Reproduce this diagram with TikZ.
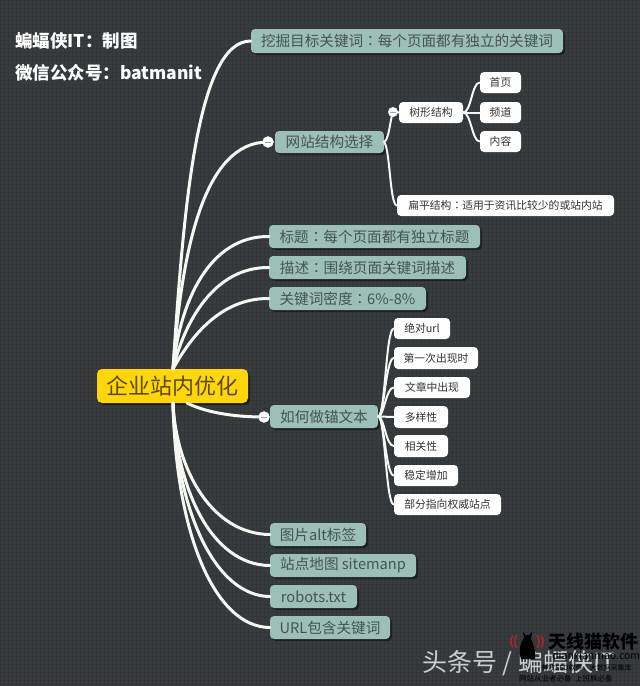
\documentclass[tikz,border=0pt]{standalone}
\usepackage{fontspec}
\setmainfont{Noto Sans CJK SC}
\newfontfamily\tcfont{Noto Sans CJK TC}
\newcommand{\cncolon}{{\tcfont ：}}
\usetikzlibrary{shadows}
\definecolor{bgc}{HTML}{383C3F}
\definecolor{dotc}{HTML}{323639}
\definecolor{tealc}{HTML}{9CBFB7}
\definecolor{tealt}{HTML}{46544F}
\definecolor{rootc}{HTML}{FFD50C}
\definecolor{roott}{HTML}{5B4A08}
\definecolor{whitet}{HTML}{333333}
\definecolor{linec}{HTML}{F6F6F2}
\definecolor{redc}{HTML}{B5232A}
\newcommand{\bx}[7]{\node[#6,minimum width={(#4-#2)*1pt},minimum height={(#5-#3)*1pt}] (#1) at ({(#2+#4)/2},{(#3+#5)/2}) {#7};}
\tikzset{
  rootbox/.style={fill=rootc,text=roott,rounded corners=5pt,inner sep=0pt,font=\fontsize{22}{24}\selectfont,drop shadow={shadow xshift=2pt,shadow yshift=-2pt,opacity=.5,fill=black}},
  tealbox/.style={fill=tealc,text=tealt,rounded corners=4pt,inner sep=0pt,font=\fontsize{14.6}{16}\selectfont,drop shadow={shadow xshift=2pt,shadow yshift=-2pt,opacity=.45,fill=black}},
  whitebox/.style={fill=white,text=whitet,rounded corners=4pt,inner sep=0pt,font=\fontsize{10.8}{12}\selectfont},
  wire/.style={draw=linec,line width=3pt,line cap=round},
  thin wire/.style={draw=linec,line width=2pt,line cap=round},
  fold/.style={circle,fill=white,draw=linec,minimum size=11pt,inner sep=0pt,path picture={\draw[gray!70,line width=.8pt] ([xshift=-3pt]path picture bounding box.center)--([xshift=3pt]path picture bounding box.center);}},
  head/.style={text=white,anchor=west,inner sep=0pt,font=\bfseries\fontsize{17.5}{19}\selectfont},
  free/.style={inner sep=0pt}
}
\begin{document}
\begin{tikzpicture}[x=1pt,y=-1pt]
\useasboundingbox (0,0) rectangle (640,686);
\fill[bgc] (0,0) rectangle (640,686);
\foreach \i in {0,4,...,684} \draw[dotc,line width=.5pt] (0,\i)--(640,\i);
\foreach \i in {0,4,...,640} \draw[dotc,line width=.5pt] (\i,0)--(\i,686);

\node[head] (h1) at (15,41) {蝙蝠侠IT：制图};
\node[head] (h2) at (15,73) {微信公众号：batmanit};

\bx{root}{97}{369}{248}{403}{rootbox}{企业站内优化}
\bx{wj}{251}{29}{563}{53}{tealbox}{挖掘目标关键词\cncolon 每个页面都有独立的关键词}
\bx{wz}{275}{131}{384}{153}{tealbox}{网站结构选择}
\bx{bt}{269}{225}{480}{248}{tealbox}{标题\cncolon 每个页面都有独立标题}
\bx{ms}{269}{256}{466}{279}{tealbox}{描述\cncolon 围绕页面关键词描述}
\bx{md}{269}{287}{426}{310}{tealbox}{关键词密度\cncolon 6\%-8\%}
\bx{mw}{270}{405}{378}{428}{tealbox}{如何做锚文本}
\bx{tp}{270}{523}{366}{546}{tealbox}{图片alt标签}
\bx{sm}{270}{554}{416}{577}{tealbox}{站点地图 sitemanp}
\bx{rb}{270}{585}{357}{608}{tealbox}{robots.txt}
\bx{ur}{270}{616}{390}{639}{tealbox}{URL包含关键词}

\bx{sx}{399}{102}{463}{123}{whitebox}{树形结构}
\bx{sy}{480}{72}{521}{93}{whitebox}{首页}
\bx{pd}{480}{102}{521}{123}{whitebox}{频道}
\bx{nr}{480}{131}{521}{152}{whitebox}{内容}
\bx{bp}{397}{195}{614}{216}{whitebox}{扁平结构\cncolon 适用于资讯比较少的或站内站}

\bx{a1}{394}{318}{450}{339}{whitebox}{绝对url}
\bx{a2}{394}{347}{478}{369}{whitebox}{第一次出现时}
\bx{a3}{394}{377}{470}{398}{whitebox}{文章中出现}
\bx{a4}{394}{406}{448}{428}{whitebox}{多样性}
\bx{a5}{394}{435}{448}{457}{whitebox}{相关性}
\bx{a6}{394}{465}{458}{486}{whitebox}{稳定增加}
\bx{a7}{394}{494}{501}{515}{whitebox}{部分指向权威站点}

\coordinate (rt) at (173,369);
\coordinate (rb1) at (173,403);
\coordinate (rb2) at (187,403);
\coordinate (f1c) at (268,142);
\coordinate (f2c) at (264,417);
\coordinate (f3c) at (393,112);

\begin{scope}[wire]
\draw (rt) .. controls (184,200) and (198,41) .. (wj.west);
\draw (rt) .. controls (182,245) and (205,142) .. (f1c);
\draw (rt) .. controls (180,300) and (210,236) .. (bt.west);
\draw (rt) .. controls (185,320) and (215,267) .. (ms.west);
\draw (rt) .. controls (190,338) and (220,298) .. (md.west);
\draw (rb2) .. controls (205,412) and (232,417) .. (f2c);
\draw (rb1) .. controls (176,470) and (212,534) .. (tp.west);
\draw (rb1) .. controls (176,490) and (212,565) .. (sm.west);
\draw (rb1) .. controls (176,510) and (215,596) .. (rb.west);
\draw (rb1) .. controls (176,535) and (215,627) .. (ur.west);
\end{scope}
\begin{scope}[thin wire]
\draw (wz.east) .. controls +(5,-3) and +(-3,8) .. (f3c);
\draw (f3c) -- (sx.west);
\draw (wz.east) .. controls +(6,8) and +(-7,-1) .. (bp.west);
\draw (sx.east) .. controls +(8,0) and +(-8,0) .. (sy.west);
\draw (sx.east) -- (pd.west);
\draw (sx.east) .. controls +(8,0) and +(-8,0) .. (nr.west);
\draw (mw.east) .. controls +(7,0) and +(-8,0) .. (a1.west);
\draw (mw.east) .. controls +(6,0) and +(-8,0) .. (a2.west);
\draw (mw.east) .. controls +(6,0) and +(-8,0) .. (a3.west);
\draw (mw.east) -- (a4.west);
\draw (mw.east) .. controls +(6,0) and +(-8,0) .. (a5.west);
\draw (mw.east) .. controls +(6,0) and +(-8,0) .. (a6.west);
\draw (mw.east) .. controls +(7,0) and +(-8,0) .. (a7.west);
\end{scope}
\node[fold] (f1) at (f1c) {};
\node[fold] (f2) at (f2c) {};
\node[fold,minimum size=9.5pt] (f3) at (f3c) {};

% watermark
\node[free,text=white,opacity=.75,anchor=west,font=\fontsize{25}{27}\selectfont] (wm) at (422,663) {头条号 / 蝙蝠侠IT};
\node[free,text=black,anchor=west,font=\bfseries\fontsize{18}{20}\selectfont] (lg) at (548,642) {天线猫软件};
\node[free,text=black,anchor=west,font=\fontsize{10.5}{12}\selectfont] (ld) at (552,655) {dianxianmao.com};
\node[free,text=black,anchor=west,font=\fontsize{7}{8}\selectfont] (l2) at (541,668) {有效SEO软件，大数据采集库};
\node[free,text=black,anchor=west,font=\fontsize{7.5}{9}\selectfont] (l3) at (519,679) {网站从业者必备\ \ 上班族必备};
\fill[black] (521,659) .. controls (518,650) and (521,642) .. (524,638) -- (523,632) -- (526,635) -- (529,635) -- (532,632) -- (531,639) .. controls (534,645) and (536,652) .. (535,659) -- cycle;
\draw[redc,line width=1.4pt] (517,635) .. controls (514,639) and (514,644) .. (517,648);
\draw[redc,line width=1.4pt] (513,636) .. controls (510,639) and (510,644) .. (513,647);
\draw[redc,line width=1.4pt] (537,635) .. controls (540,639) and (540,644) .. (537,648);
\draw[redc,line width=1.4pt] (541,636) .. controls (544,639) and (544,644) .. (541,647);
\end{tikzpicture}
\end{document}
